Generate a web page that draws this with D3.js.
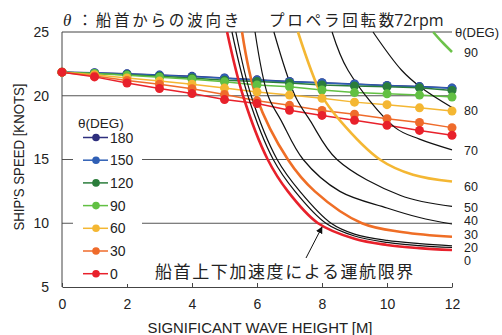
<!DOCTYPE html>
<html>
<head>
<meta charset="utf-8">
<script src="https://cdn.jsdelivr.net/npm/d3@7"></script>
<style>
  html, body { margin: 0; padding: 0; background: #fff; }
  svg { display: block; }
  text { font-family: "Liberation Sans", Arial, sans-serif; fill: #222; }
  .jp { font-family: "Noto Sans CJK JP", sans-serif; }
</style>
</head>
<body>
<svg id="chart" width="502" height="335"></svg>
<script>
// Wave height (m) at which the speeds were computed
const waveHeights = [0, 1, 2, 3, 4, 5, 6, 7, 8, 9, 10, 11, 12];

// Attainable ship speed (knots) for each wave direction θ
const speed180 = [21.85, 21.80, 21.72, 21.62, 21.52, 21.40, 21.25, 21.12, 21.02, 20.92, 20.80, 20.72, 20.60];
const speed150 = [21.85, 21.78, 21.70, 21.60, 21.50, 21.38, 21.22, 21.10, 21.00, 20.90, 20.78, 20.70, 20.58];
const speed120 = [21.85, 21.75, 21.65, 21.52, 21.40, 21.22, 21.12, 21.00, 20.85, 20.77, 20.70, 20.62, 20.42];
const speed90  = [21.85, 21.75, 21.60, 21.45, 21.30, 21.10, 20.85, 20.70, 20.45, 20.25, 20.15, 20.05, 19.90];
const speed60  = [21.85, 21.65, 21.40, 21.15, 20.90, 20.60, 20.30, 20.05, 19.80, 19.50, 19.30, 19.05, 18.80];
const speed30  = [21.85, 21.55, 21.20, 20.90, 20.55, 20.10, 19.60, 19.25, 18.85, 18.55, 18.20, 17.90, 17.50];
const speed0   = [21.85, 21.48, 21.00, 20.57, 20.17, 19.70, 19.39, 18.86, 18.46, 18.07, 17.68, 17.28, 16.90];

const seriesDegs = [180, 150, 120, 90, 60, 30, 0];
const seriesSpeeds = [speed180, speed150, speed120, speed90, speed60, speed30, speed0];
const seriesColors = ["#2e2f7e", "#2f5fb5", "#2b7d3b", "#62c043", "#f4b733", "#ef6b2b", "#e8212b"];

// Vertical-acceleration operating limits: [wave height, speed] per θ
const lim0  = [[5.08, 25], [5.57, 20], [6.33, 15], [6.95, 12.5], [7.88, 10], [9, 8.78], [10, 8.3], [11, 8.05], [12, 7.9]];
const lim10 = [[5.23, 25], [5.72, 20], [6.5, 15], [7.17, 12.5], [8.12, 10], [9, 9.0], [10, 8.5], [11, 8.25], [12, 8.1]];
const lim20 = [[5.35, 25], [5.82, 20], [6.62, 15], [7.32, 12.5], [8.28, 10], [9, 9.15], [10, 8.65], [11, 8.4], [12, 8.23]];
const lim30 = [[5.54, 25], [5.97, 20], [6.95, 15], [7.78, 12.5], [9.23, 10], [10.5, 9.3], [12, 8.94]];
const lim40 = [[5.94, 25], [6.34, 20], [6.74, 18.07], [7.42, 15], [8.55, 12.5], [10, 11.2], [11, 10.45], [12, 9.94]];
const lim50 = [[6.52, 25], [7.17, 20], [7.63, 18.07], [8.46, 15], [10.4, 12.2], [12, 11.32]];
const lim60 = [[7.26, 25], [8.0, 20], [8.55, 18.07], [9.78, 15], [10.8, 13.8], [12, 13.27]];
const lim70 = [[8.31, 25], [8.8, 22.0], [10.25, 17.5], [11, 16.6], [12, 15.76]];
const lim80 = [[9.57, 25], [10.45, 22.0], [11.07, 20.6], [12, 19.07]];
const lim90 = [[11.42, 25], [11.7, 24.2], [12, 23.43]];

const limitCurves = [lim0, lim10, lim20, lim30, lim40, lim50, lim60, lim70, lim80, lim90];
const limitColors = ["#e8212b", "#111", "#111", "#ef6e26", "#111", "#111", "#f4b733", "#111", "#111", "#6cc24a"];
const limitWidths = [2.6, 1.2, 1.2, 2.6, 1.2, 1.2, 2.6, 1.2, 1.2, 2.6];

// Labels on the right edge of the plot and the speed each one sits at
const rightLabels = ["90", "80", "70", "60", "50", "40", "30", "20", "0"];
const rightLabelSpeeds = [23.43, 18.88, 15.67, 12.92, 11.2, 10.18, 9.08, 8.1, 7.1];

const xTicks = [0, 2, 4, 6, 8, 10, 12];
const yTicks = [5, 10, 15, 20, 25];
const gridSpeeds = [10, 15, 20];

const svg = d3.select("#chart");
const x = d3.scaleLinear().domain([0, 12]).range([62, 452]);
const y = d3.scaleLinear().domain([5, 25]).range([287, 32]);

// Title
const title = svg.append("text").attr("x", 63).attr("y", 26).attr("font-size", 15.5);
title.append("tspan").attr("font-family", "Liberation Serif, serif").attr("font-style", "italic").attr("font-size", 17).text("θ");
title.append("tspan").attr("class", "jp").attr("dx", 6).attr("letter-spacing", 2.8).text("：船首からの波向き");
title.append("tspan").attr("class", "jp").attr("dx", 27).attr("letter-spacing", 2.8).text("プロペラ回転数");
title.append("tspan").attr("font-family", "Open Sans, sans-serif").attr("font-size", 16).attr("dx", -3).text("72rpm");

// Grid and frame
svg.append("g").selectAll("line").data(gridSpeeds).join("line")
  .attr("x1", x(0)).attr("x2", x(12))
  .attr("y1", d => y(d)).attr("y2", d => y(d))
  .attr("stroke", "#555").attr("stroke-width", 1);
svg.append("line").attr("x1", x(0)).attr("x2", x(12)).attr("y1", y(25)).attr("y2", y(25))
  .attr("stroke", "#444").attr("stroke-width", 1);
svg.append("line").attr("x1", x(0)).attr("x2", x(0)).attr("y1", y(25)).attr("y2", y(5))
  .attr("stroke", "#444").attr("stroke-width", 1);

// Bottom axis with inward ticks
const xAxis = d3.axisBottom(x).tickValues(xTicks).tickSizeInner(-4).tickSizeOuter(0).tickPadding(12);
const gx = svg.append("g").attr("transform", `translate(0,${y(5)})`).call(xAxis);
gx.select(".domain").attr("stroke", "#444");
gx.selectAll(".tick line").attr("stroke", "#444");
gx.selectAll("text").attr("font-size", 14).attr("fill", "#222").attr("font-family", "Liberation Sans, Arial, sans-serif");

// Left axis labels only
const yAxis = d3.axisLeft(y).tickValues(yTicks).tickSize(0).tickPadding(13);
const gy = svg.append("g").attr("transform", `translate(${x(0)},0)`).call(yAxis);
gy.select(".domain").remove();
gy.selectAll("text").attr("font-size", 14).attr("fill", "#222").attr("font-family", "Liberation Sans, Arial, sans-serif");

// Axis titles
svg.append("text").attr("x", 260).attr("y", 333).attr("text-anchor", "middle")
  .attr("font-size", 14).attr("textLength", 225).attr("lengthAdjust", "spacingAndGlyphs")
  .text("SIGNIFICANT WAVE HEIGHT [M]");
svg.append("text").attr("transform", "translate(24,157) rotate(-90)").attr("text-anchor", "middle")
  .attr("font-size", 14).attr("textLength", 147).attr("lengthAdjust", "spacingAndGlyphs")
  .text("SHIP'S SPEED [KNOTS]");

// Speed series lines
const line = d3.line().x((d, i) => x(waveHeights[i])).y(d => y(d));
const seriesOrder = d3.range(seriesDegs.length);
svg.append("g").selectAll("path").data(seriesOrder).join("path")
  .attr("d", i => line(seriesSpeeds[i]))
  .attr("fill", "none").attr("stroke", i => seriesColors[i]).attr("stroke-width", 1.5);

// Operating limit curves
const limLine = d3.line().x(d => x(d[0])).y(d => y(d[1])).curve(d3.curveCatmullRom.alpha(0.5));
svg.append("g").selectAll("path").data(d3.range(limitCurves.length)).join("path")
  .attr("d", i => limLine(limitCurves[i]))
  .attr("fill", "none").attr("stroke", i => limitColors[i]).attr("stroke-width", i => limitWidths[i]);

// Speed series markers
seriesOrder.forEach(i => {
  svg.append("g").selectAll("circle").data(seriesSpeeds[i]).join("circle")
    .attr("cx", (d, j) => x(waveHeights[j])).attr("cy", d => y(d)).attr("r", 4.5)
    .attr("fill", seriesColors[i]);
});

// Right-edge labels
svg.append("text").attr("x", 455).attr("y", 37).attr("font-size", 13).text("θ(DEG)");
svg.append("g").selectAll("text").data(rightLabels).join("text")
  .attr("x", 464).attr("y", (d, i) => y(rightLabelSpeeds[i]) + 4.5)
  .attr("font-size", 12.5).text(d => d);

// Legend
const lg = svg.append("g");
lg.append("rect").attr("x", 73).attr("y", 112).attr("width", 69).attr("height", 172).attr("fill", "#fff");
lg.append("text").attr("x", 78).attr("y", 127.5).attr("font-size", 13.5).text("θ(DEG)");
seriesDegs.forEach((deg, i) => {
  const cy = 137.5 + i * 22.7;
  lg.append("line").attr("x1", 83).attr("x2", 108).attr("y1", cy).attr("y2", cy)
    .attr("stroke", seriesColors[i]).attr("stroke-width", 1.5);
  lg.append("circle").attr("cx", 96).attr("cy", cy).attr("r", 3.8).attr("fill", seriesColors[i]);
  lg.append("text").attr("x", 110).attr("y", cy + 5).attr("font-size", 14).text(deg);
});

// Annotation with arrow
svg.append("defs").append("marker").attr("id", "arrow")
  .attr("viewBox", "0 0 10 10").attr("refX", 9).attr("refY", 5)
  .attr("markerWidth", 7).attr("markerHeight", 7).attr("orient", "auto")
  .append("path").attr("d", "M0,0 L10,5 L0,10 Z").attr("fill", "#111");
svg.append("line").attr("x1", 306).attr("y1", 258).attr("x2", 322).attr("y2", 227)
  .attr("stroke", "#111").attr("stroke-width", 1).attr("marker-end", "url(#arrow)");
svg.append("text").attr("class", "jp").attr("x", 155).attr("y", 278).attr("font-size", 17)
  .attr("letter-spacing", 1.6).attr("fill", "#222").text("船首上下加速度による運航限界");
</script>
</body>
</html>
